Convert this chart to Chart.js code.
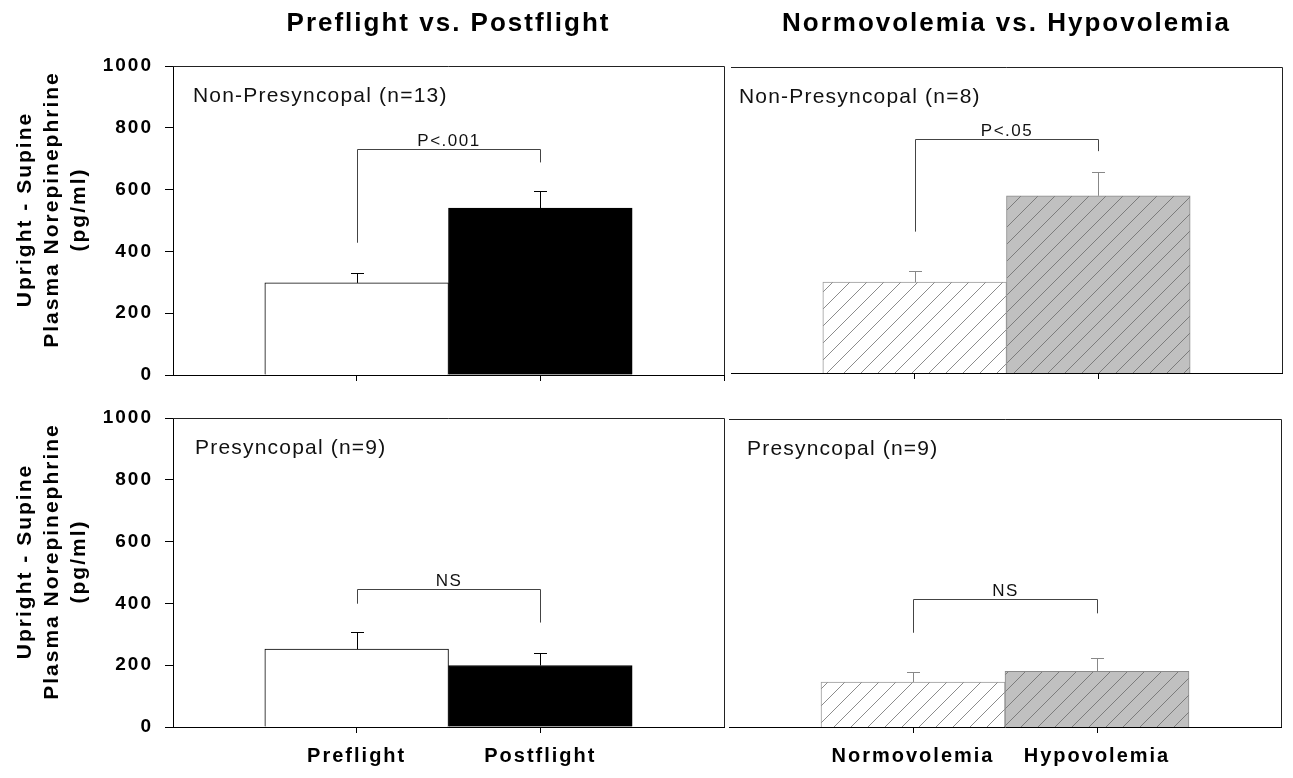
<!DOCTYPE html>
<html>
<head>
<meta charset="utf-8">
<title>Upright - Supine Plasma Norepinephrine</title>
<script src="https://cdn.jsdelivr.net/npm/chart.js@4.4.1/dist/chart.umd.min.js"></script>
<style>
  html, body { margin: 0; padding: 0; background: #fff; }
  #wrap { position: relative; width: 1293px; height: 778px; overflow: hidden; background: #fff; }
  canvas { position: absolute; }
</style>
</head>
<body>
<div id="wrap">
  <canvas id="flightNonPreCanvas" width="730" height="395" style="left:0;top:0;width:730px;height:395px"></canvas>
  <canvas id="flightPreCanvas" width="730" height="383" style="left:0;top:395px;width:730px;height:383px"></canvas>
  <canvas id="volemiaNonPreCanvas" width="569" height="395" style="left:724px;top:0;width:569px;height:395px"></canvas>
  <canvas id="volemiaPreCanvas" width="569" height="383" style="left:724px;top:395px;width:569px;height:383px"></canvas>
</div>
<script>
// values (pg/ml)
const flightCats = ['Preflight', 'Postflight'];
const volemiaCats = ['Normovolemia', 'Hypovolemia'];

const flightNonPre = [298, 540];
const flightNonPreErr = [31, 55];
const flightPre = [252, 199];
const flightPreErr = [55, 42];

const volemiaNonPre = [297, 579];
const volemiaNonPreErr = [37, 79];
const volemiaPre = [146, 181];
const volemiaPreErr = [31, 43];

const yTicks = [0, 200, 400, 600, 800, 1000];

// significance brackets: [bar level, left leg end, right leg end]
const bracketFlightNonPre = [730, 428, 688];
const bracketFlightPre = [447, 399, 338];
const bracketVolemiaNonPre = [764, 462, 725];
const bracketVolemiaPre = [415, 306, 369];

const yTitleLines = ['Upright - Supine', 'Plasma Norepinephrine', '(pg/ml)'];

const FONT = '"Liberation Sans", Arial, Helvetica, sans-serif';
Chart.defaults.font.family = FONT;
Chart.defaults.color = '#000';

function hatch(bg, line) {
    const s = 17;
    const c = document.createElement('canvas');
    c.width = s; c.height = s;
    const g = c.getContext('2d');
    g.fillStyle = bg;
    g.fillRect(0, 0, s, s);
    g.strokeStyle = line;
    g.lineWidth = 1;
    g.beginPath();
    g.moveTo(-1, s + 1); g.lineTo(s + 1, -1);
    g.moveTo(-1, 1); g.lineTo(1, -1);
    g.moveTo(s - 1, s + 1); g.lineTo(s + 1, s - 1);
    g.stroke();
    return g.createPattern(c, 'repeat');
}

const extras = {
    id: 'extras',
    beforeDraw(chart) {
        chart.ctx.letterSpacing = '2px';
    },
    afterDatasetsDraw(chart, args, o) {
        const ctx = chart.ctx;
        const xs = chart.scales.x, ys = chart.scales.y;
        ctx.save();
        ctx.strokeStyle = o.errColor;
        ctx.lineWidth = 1;
        o.values.forEach((v, i) => {
            const x = Math.round(xs.getPixelForValue(i + 1)) + 0.5;
            const y0 = ys.getPixelForValue(v);
            const y1 = Math.round(ys.getPixelForValue(v + o.err[i])) + 0.5;
            ctx.beginPath();
            ctx.moveTo(x, y0); ctx.lineTo(x, y1);
            ctx.moveTo(x - 6.5, y1); ctx.lineTo(x + 6.5, y1);
            ctx.stroke();
        });
        ctx.restore();
    },
    afterDraw(chart, args, o) {
        const ctx = chart.ctx;
        const a = chart.chartArea;
        const xs = chart.scales.x, ys = chart.scales.y;
        ctx.save();

        // frame: top and right edges
        ctx.strokeStyle = '#222';
        ctx.lineWidth = 1;
        ctx.beginPath();
        ctx.moveTo(a.left, a.top + 0.5); ctx.lineTo(a.right + 0.5, a.top + 0.5);
        ctx.lineTo(a.right + 0.5, a.bottom);
        ctx.stroke();

        // significance bracket
        const [lvl, l1, l2] = o.bracket;
        const xa = Math.round(xs.getPixelForValue(1)) + 0.5;
        const xb = Math.round(xs.getPixelForValue(2)) + 0.5;
        const yl = Math.round(ys.getPixelForValue(lvl)) + 0.5;
        ctx.strokeStyle = '#444';
        ctx.beginPath();
        ctx.moveTo(xa, ys.getPixelForValue(l1)); ctx.lineTo(xa, yl);
        ctx.lineTo(xb, yl); ctx.lineTo(xb, ys.getPixelForValue(l2));
        ctx.stroke();

        ctx.fillStyle = '#111';
        ctx.textBaseline = 'alphabetic';
        ctx.textAlign = 'center';
        ctx.letterSpacing = '1.5px';
        ctx.font = '17px ' + FONT;
        ctx.fillText(o.sig, (xa + xb) / 2, yl - 4);

        // panel label
        ctx.textAlign = 'left';
        ctx.letterSpacing = '1.2px';
        ctx.font = '21px ' + FONT;
        ctx.fillText(o.label, a.left + o.labelDx, a.top + 36);

        // column title
        if (o.title) {
            ctx.fillStyle = '#000';
            ctx.textAlign = 'center';
            ctx.letterSpacing = '2px';
            ctx.font = 'bold 26px ' + FONT;
            ctx.fillText(o.title, (a.left + a.right) / 2, 31);
        }

        // y axis title, three rotated lines
        if (o.yTitle) {
            ctx.fillStyle = '#000';
            ctx.textAlign = 'center';
            ctx.textBaseline = 'middle';
            ctx.letterSpacing = '2px';
            ctx.font = 'bold 21px ' + FONT;
            const offs = [148, 121, 94];
            o.yTitle.forEach((t, i) => {
                ctx.save();
                ctx.translate(a.left - offs[i], (a.top + a.bottom) / 2 - 11);
                ctx.rotate(-Math.PI / 2);
                ctx.fillText(t, 0, 0);
                ctx.restore();
            });
        }
        ctx.restore();
    }
};

function makePanel(id, cfg) {
    const labels = ['', ...cfg.cats, ''];
    const data = [null, ...cfg.values, null];
    const shown = (c) => (c.index === 1 || c.index === 2 || (cfg.endTick && c.index === 3)) ? '#000' : 'rgba(0,0,0,0)';
    return new Chart(document.getElementById(id), {
        type: 'bar',
        data: {
            labels,
            datasets: [{
                data,
                backgroundColor: ['#fff', ...cfg.fills, '#fff'],
                borderColor: ['#000', ...cfg.borders, '#000'],
                borderWidth: 1,
                barPercentage: 1,
                categoryPercentage: 1,
            }],
        },
        options: {
            responsive: false,
            devicePixelRatio: 1,
            animation: false,
            events: [],
            layout: { padding: cfg.padding },
            plugins: {
                legend: { display: false },
                tooltip: { enabled: false },
                extras: {
                    values: cfg.values,
                    err: cfg.err,
                    errColor: cfg.errColor,
                    bracket: cfg.bracket,
                    sig: cfg.sig,
                    label: cfg.label,
                    labelDx: cfg.labelDx,
                    title: cfg.title,
                    yTitle: cfg.yTitle,
                },
            },
            scales: {
                x: {
                    type: 'category',
                    offset: false,
                    grid: { offset: false, drawOnChartArea: false, drawTicks: true, tickLength: 6, tickColor: shown },
                    border: { color: '#000', width: 1 },
                    ticks: {
                        display: cfg.showX,
                        autoSkip: false,
                        maxRotation: 0,
                        padding: 11,
                        color: '#000',
                        font: { size: 20, weight: 'bold' },
                    },
                    afterFit: (s) => {
                        s.height = cfg.xHeight;
                        s.paddingLeft = 0;
                        s.paddingRight = 0;
                    },
                },
                y: {
                    display: cfg.showY,
                    min: 0,
                    max: 1000,
                    afterBuildTicks: (s) => { s.ticks = yTicks.map(v => ({ value: v })); },
                    grid: { drawOnChartArea: false, drawTicks: true, tickLength: 8, tickColor: '#000' },
                    border: { color: '#000', width: 1 },
                    ticks: {
                        padding: 12,
                        color: '#000',
                        font: { size: 19, weight: 'bold' },
                        callback: (v) => String(v),
                    },
                    afterFit: (s) => {
                        s.width = cfg.showY ? 173 : 0;
                        s.paddingTop = 0;
                        s.paddingBottom = 0;
                    },
                },
            },
        },
        plugins: [extras],
    });
}

const hatchWhite = hatch('#ffffff', '#8c8c8c');
const hatchGray = hatch('#c0c0c0', '#7c7c7c');

makePanel('flightNonPreCanvas', {
    cats: flightCats, values: flightNonPre, err: flightNonPreErr,
    fills: ['#ffffff', '#000000'], borders: ['#000', '#000'], errColor: '#000',
    bracket: bracketFlightNonPre, sig: 'P<.001',
    label: 'Non-Presyncopal (n=13)', labelDx: 20,
    title: 'Preflight vs. Postflight', yTitle: yTitleLines,
    padding: { top: 66, right: 6, left: 0, bottom: 0 }, xHeight: 20,
    showX: false, showY: true, endTick: true,
});

makePanel('flightPreCanvas', {
    cats: flightCats, values: flightPre, err: flightPreErr,
    fills: ['#ffffff', '#000000'], borders: ['#000', '#000'], errColor: '#000',
    bracket: bracketFlightPre, sig: 'NS',
    label: 'Presyncopal (n=9)', labelDx: 22,
    title: null, yTitle: yTitleLines,
    padding: { top: 23, right: 6, left: 0, bottom: 0 }, xHeight: 51,
    showX: true, showY: true,
});

makePanel('volemiaNonPreCanvas', {
    cats: volemiaCats, values: volemiaNonPre, err: volemiaNonPreErr,
    fills: [hatchWhite, hatchGray], borders: ['#9a9a9a', '#8a8a8a'], errColor: '#888',
    bracket: bracketVolemiaNonPre, sig: 'P<.05',
    label: 'Non-Presyncopal (n=8)', labelDx: 8,
    title: 'Normovolemia vs. Hypovolemia', yTitle: null,
    padding: { top: 67, right: 11, left: 7, bottom: 0 }, xHeight: 22,
    showX: false, showY: false,
});

makePanel('volemiaPreCanvas', {
    cats: volemiaCats, values: volemiaPre, err: volemiaPreErr,
    fills: [hatchWhite, hatchGray], borders: ['#9a9a9a', '#8a8a8a'], errColor: '#888',
    bracket: bracketVolemiaPre, sig: 'NS',
    label: 'Presyncopal (n=9)', labelDx: 18,
    title: null, yTitle: null,
    padding: { top: 24, right: 12, left: 5, bottom: 0 }, xHeight: 51,
    showX: true, showY: false,
});
</script>
</body>
</html>
